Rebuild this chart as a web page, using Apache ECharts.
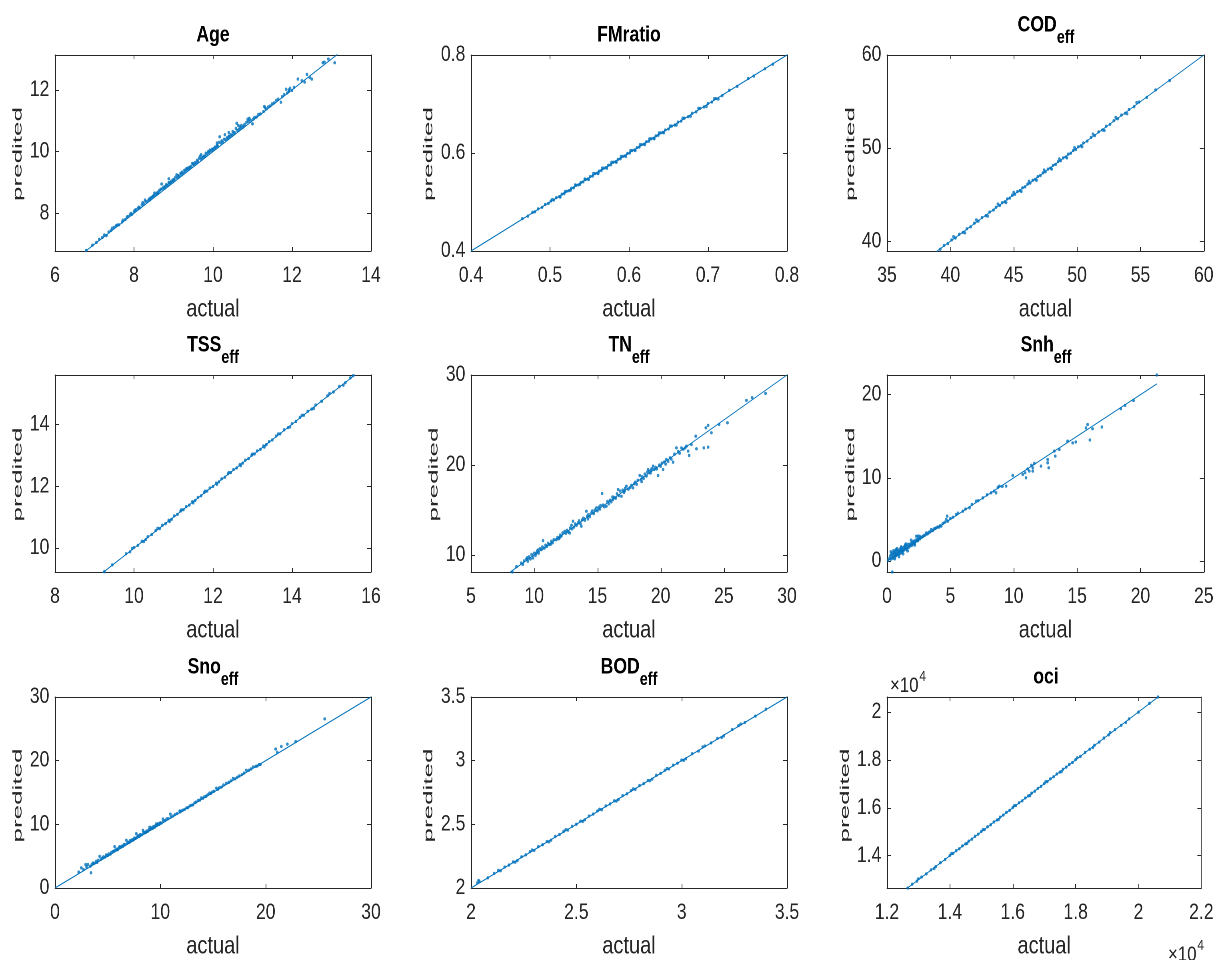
<!DOCTYPE html>
<html><head><meta charset="utf-8">
<script src="https://cdn.jsdelivr.net/npm/echarts@6/dist/echarts.min.js"></script>
<style>html,body{margin:0;padding:0;background:#fff;overflow:hidden}
#wrap{width:1216px;height:960px;overflow:hidden}
#c{width:1520px;height:960px;transform:scaleX(0.8);transform-origin:0 0}</style>
</head><body><div id="wrap"><div id="c"></div></div>
<script>
// ---------- DATA (actual, predicted) ----------
const agePoints = [[6.79,6.80],[6.95,6.97],[7.05,7.06],[7.12,7.16],[7.2,7.22],[7.25,7.3],[7.3,7.28],[7.36,7.4],[7.42,7.45],[7.45,7.52],[7.5,7.55],[7.55,7.6],[7.58,7.62],[7.62,7.63],[7.7,7.72],[7.72,7.78],[7.78,7.8],[7.82,7.88],[7.85,7.9],[7.9,7.95],[7.92,8.0],[7.95,7.97],[8.0,8.05],[8.02,8.1],[8.05,8.12],[8.1,8.16],[8.12,8.2],[8.15,8.18],[8.2,8.28],[8.22,8.35],[8.25,8.3],[8.28,8.43],[8.3,8.38],[8.35,8.4],[8.38,8.46],[8.4,8.44],[8.42,8.5],[8.45,8.52],[8.48,8.55],[8.5,8.58],[8.55,8.6],[8.58,8.66],[8.6,8.64],[8.62,8.7],[8.65,8.75],[8.68,8.78],[8.7,8.95],[8.72,8.8],[8.75,8.85],[8.78,8.82],[8.8,8.88],[8.82,8.93],[8.85,8.9],[8.88,9.12],[8.9,8.97],[8.92,9.0],[8.95,9.05],[8.98,9.02],[9.0,9.1],[9.02,9.08],[9.05,9.17],[9.08,9.25],[9.1,9.15],[9.12,9.22],[9.15,9.2],[9.18,9.3],[9.2,9.27],[9.22,9.34],[9.25,9.3],[9.28,9.4],[9.3,9.36],[9.33,9.45],[9.35,9.42],[9.38,9.48],[9.4,9.44],[9.42,9.5],[9.45,9.52],[9.5,9.6],[9.52,9.58],[9.55,9.65],[9.58,9.62],[9.6,9.72],[9.62,9.68],[9.65,9.78],[9.67,9.85],[9.7,9.75],[9.72,9.8],[9.75,9.82],[9.78,9.86],[9.8,9.85],[9.82,9.95],[9.85,9.92],[9.88,10.0],[9.9,9.97],[9.92,10.05],[9.95,10.02],[9.98,10.08],[10.0,10.05],[10.02,10.1],[10.05,10.15],[10.08,10.12],[10.1,10.2],[10.12,10.18],[10.15,10.3],[10.17,10.48],[10.2,10.28],[10.22,10.35],[10.25,10.3],[10.28,10.4],[10.3,10.55],[10.32,10.38],[10.35,10.45],[10.38,10.42],[10.4,10.5],[10.42,10.48],[10.45,10.55],[10.48,10.52],[10.5,10.65],[10.52,10.58],[10.55,10.62],[10.58,10.75],[10.6,10.92],[10.62,10.68],[10.65,10.72],[10.68,10.8],[10.7,10.75],[10.72,10.85],[10.75,10.78],[10.78,10.82],[10.8,10.88],[10.85,10.95],[10.88,11.05],[10.9,10.98],[10.95,11.02],[11.0,10.9],[11.02,11.05],[11.05,11.1],[11.1,11.12],[11.15,11.2],[11.2,11.22],[11.28,11.3],[11.32,11.42],[11.35,11.38],[11.4,11.45],[11.45,11.48],[11.5,11.55],[11.55,11.58],[11.6,11.66],[11.65,11.7],[11.72,11.6],[11.75,11.78],[11.8,11.85],[11.85,12.02],[11.88,11.9],[11.92,11.95],[11.95,12.05],[12.0,11.98],[12.05,12.08],[12.15,12.35],[12.25,12.3],[12.32,12.25],[12.38,12.5],[12.45,12.4],[12.5,12.35],[12.78,12.88],[12.82,12.9],[12.92,13.0],[13.08,12.88],[8.52,8.66],[8.88,9.0],[9.48,9.62],[9.7,9.9],[10.1,10.28],[10.4,10.62],[10.64,10.85],[10.92,11.08],[11.3,11.46],[11.92,12.0]];
const fmratioPoints = [[0.465,0.466],[0.472,0.471],[0.478,0.479],[0.481,0.480],[0.485,0.486],[0.49,0.489],[0.494,0.495],[0.498,0.497],[0.501,0.502],[0.505,0.504],[0.508,0.509],[0.512,0.511],[0.515,0.516],[0.518,0.517],[0.521,0.522],[0.524,0.523],[0.527,0.528],[0.53,0.529],[0.533,0.534],[0.536,0.535],[0.539,0.540],[0.542,0.541],[0.545,0.546],[0.548,0.547],[0.551,0.552],[0.554,0.553],[0.557,0.558],[0.56,0.559],[0.562,0.563],[0.565,0.564],[0.568,0.569],[0.571,0.570],[0.574,0.575],[0.577,0.576],[0.58,0.581],[0.583,0.582],[0.586,0.587],[0.589,0.588],[0.592,0.593],[0.595,0.594],[0.598,0.599],[0.601,0.600],[0.604,0.605],[0.607,0.606],[0.61,0.611],[0.613,0.612],[0.616,0.617],[0.619,0.618],[0.622,0.623],[0.625,0.624],[0.628,0.629],[0.631,0.630],[0.634,0.635],[0.637,0.636],[0.64,0.641],[0.643,0.642],[0.646,0.647],[0.65,0.649],[0.654,0.655],[0.658,0.657],[0.662,0.663],[0.666,0.665],[0.67,0.671],[0.675,0.674],[0.68,0.681],[0.685,0.684],[0.69,0.691],[0.695,0.694],[0.7,0.701],[0.705,0.704],[0.71,0.711],[0.718,0.717],[0.727,0.728],[0.737,0.736],[0.751,0.752],[0.758,0.757],[0.772,0.772],[0.782,0.781],[0.503,0.505],[0.513,0.51],[0.519,0.521],[0.526,0.524],[0.532,0.535],[0.538,0.536],[0.544,0.547],[0.549,0.546],[0.555,0.558],[0.561,0.558],[0.566,0.569],[0.572,0.569],[0.578,0.581],[0.584,0.581],[0.59,0.593],[0.596,0.593],[0.602,0.605],[0.608,0.605],[0.614,0.617],[0.62,0.617],[0.626,0.629],[0.632,0.629],[0.638,0.641],[0.644,0.641],[0.652,0.655],[0.66,0.657],[0.668,0.671],[0.678,0.675],[0.688,0.691],[0.698,0.695],[0.708,0.711],[0.713,0.71]];
const codPoints = [[39.2,39.15],[39.5,39.55],[39.8,39.75],[40.1,40.15],[40.4,40.35],[40.7,40.75],[41.0,40.95],[41.3,41.35],[41.6,41.55],[41.9,41.95],[42.2,42.15],[42.5,42.55],[42.8,42.75],[43.1,43.15],[43.4,43.35],[43.6,43.65],[43.9,43.85],[44.1,44.15],[44.3,44.25],[44.5,44.55],[44.7,44.65],[44.9,44.95],[45.1,45.05],[45.3,45.35],[45.5,45.45],[45.7,45.75],[45.9,45.85],[46.1,46.15],[46.3,46.25],[46.5,46.55],[46.7,46.65],[46.9,46.95],[47.1,47.05],[47.3,47.35],[47.5,47.45],[47.7,47.75],[47.9,47.85],[48.1,48.15],[48.3,48.25],[48.5,48.55],[48.7,48.65],[48.9,48.95],[49.1,49.05],[49.3,49.35],[49.5,49.45],[49.7,49.75],[49.9,49.85],[50.1,50.15],[50.3,50.25],[50.5,50.55],[50.8,50.75],[51.1,51.15],[51.4,51.35],[51.7,51.75],[52.0,51.95],[52.3,52.35],[52.6,52.55],[52.9,52.95],[53.2,53.15],[53.5,53.55],[53.8,53.75],[54.1,54.15],[54.5,54.45],[54.9,54.95],[55.5,55.45],[56.2,56.25],[57.3,57.25],[40.25,40.5],[41.15,40.9],[42.05,42.3],[42.95,42.7],[43.75,44.0],[44.4,44.15],[45.0,45.25],[45.6,45.35],[46.2,46.45],[46.8,46.55],[47.4,47.65],[48.0,47.75],[48.6,48.85],[49.2,48.95],[49.8,50.05],[50.4,50.15],[51.25,51.5],[52.15,51.9],[53.05,53.3],[53.95,53.7],[54.7,54.9]];
const tssPoints = [[9.25,9.24],[9.45,9.46],[9.8,9.82],[9.9,9.88],[10.0,10.02],[10.1,10.09],[10.2,10.22],[10.3,10.28],[10.35,10.37],[10.45,10.44],[10.55,10.57],[10.65,10.63],[10.72,10.74],[10.8,10.79],[10.88,10.9],[10.95,10.93],[11.02,11.04],[11.1,11.09],[11.18,11.2],[11.25,11.24],[11.32,11.34],[11.4,11.39],[11.48,11.5],[11.55,11.54],[11.62,11.64],[11.7,11.69],[11.78,11.8],[11.85,11.84],[11.92,11.94],[12.0,11.99],[12.08,12.1],[12.15,12.14],[12.22,12.24],[12.3,12.29],[12.38,12.4],[12.45,12.44],[12.52,12.54],[12.6,12.59],[12.68,12.7],[12.75,12.74],[12.82,12.84],[12.9,12.89],[12.98,13.0],[13.05,13.04],[13.12,13.14],[13.2,13.19],[13.28,13.3],[13.35,13.34],[13.42,13.44],[13.5,13.49],[13.6,13.62],[13.7,13.69],[13.8,13.82],[13.9,13.89],[14.0,14.02],[14.1,14.09],[14.2,14.22],[14.3,14.29],[14.4,14.42],[14.5,14.49],[14.6,14.62],[14.75,14.74],[14.9,14.92],[15.05,15.04],[15.2,15.22],[15.35,15.34],[15.48,15.5],[15.55,15.57],[9.95,9.99],[10.25,10.21],[10.6,10.64],[10.9,10.86],[11.2,11.24],[11.5,11.46],[11.8,11.84],[12.1,12.06],[12.4,12.44],[12.7,12.66],[13.0,13.04],[13.3,13.26],[13.65,13.69],[13.95,13.91],[14.25,14.29],[14.55,14.51],[14.95,14.99],[15.3,15.26]];
const tnPoints = [[8.27,8.11],[8.6,8.7],[8.98,9.11],[9.1,8.95],[9.2,9.35],[9.38,9.55],[9.5,9.3],[9.6,9.8],[9.7,9.55],[9.8,10.05],[9.91,9.67],[10.0,10.2],[10.1,9.95],[10.17,10.22],[10.25,10.45],[10.35,10.2],[10.45,10.7],[10.57,10.6],[10.65,10.9],[10.7,11.6],[10.8,10.75],[10.9,11.1],[11.0,10.95],[11.1,11.3],[11.2,11.15],[11.36,11.52],[11.45,11.35],[11.55,11.7],[11.75,11.7],[11.85,11.95],[11.95,11.8],[12.05,12.2],[12.15,12.1],[12.25,12.45],[12.41,12.63],[12.5,12.4],[12.6,12.75],[12.7,12.55],[12.8,12.45],[12.85,13.0],[12.95,13.3],[13.07,13.75],[13.15,13.1],[13.25,13.45],[13.35,13.3],[13.47,13.56],[13.55,13.8],[13.65,13.5],[13.73,13.2],[13.8,13.9],[13.9,14.1],[14.0,13.85],[14.13,14.86],[14.2,14.3],[14.3,14.5],[14.4,14.25],[14.53,14.68],[14.6,14.9],[14.7,14.6],[14.8,15.0],[14.92,15.23],[15.0,14.9],[15.1,15.3],[15.2,15.1],[15.37,16.83],[15.45,15.55],[15.55,15.35],[15.71,15.42],[15.8,15.95],[15.9,15.7],[16.0,16.1],[16.1,15.9],[16.24,16.16],[16.35,16.4],[16.45,16.3],[16.55,16.8],[16.64,17.27],[16.7,16.6],[16.8,17.1],[16.9,16.53],[17.0,17.2],[17.1,16.95],[17.2,17.4],[17.3,17.64],[17.45,17.3],[17.6,17.5],[17.7,17.75],[17.82,17.46],[17.9,17.9],[18.0,18.1],[18.1,17.85],[18.2,18.3],[18.35,18.83],[18.45,18.4],[18.55,18.7],[18.65,18.5],[18.75,19.0],[18.88,18.76],[18.95,19.2],[19.01,19.5],[19.1,19.3],[19.2,19.1],[19.3,19.6],[19.4,19.87],[19.5,19.5],[19.6,19.75],[19.7,19.55],[19.8,18.83],[19.9,20.0],[20.0,19.85],[20.1,20.2],[20.2,19.5],[20.3,20.35],[20.46,20.61],[20.6,20.4],[20.75,20.8],[20.85,20.65],[20.99,20.31],[21.1,21.2],[21.25,21.9],[21.4,21.5],[21.5,21.3],[21.65,21.9],[21.8,21.75],[21.95,21.9],[22.05,22.1],[22.18,21.54],[22.26,21.06],[22.44,22.28],[22.78,23.2],[22.84,21.8],[23.42,21.9],[23.58,24.14],[23.76,24.4],[23.76,21.98],[24.02,23.58],[24.63,24.5],[25.29,24.69],[26.79,27.18],[27.24,27.48],[28.3,27.96],[9.45,9.7],[10.3,10.55],[11.3,11.2],[12.0,11.9],[13.0,12.9],[14.25,14.0],[15.25,15.5],[16.2,16.45],[17.15,17.1],[18.5,18.15],[19.25,19.4],[20.4,20.1]];
const snhPoints = [[0.08,0.08],[0.42,-1.33],[0.2,0.3],[0.25,0.6],[0.3,0.2],[0.35,0.8],[0.4,0.5],[0.42,0.96],[0.45,0.3],[0.5,0.7],[0.55,1.0],[0.58,0.45],[0.6,0.85],[0.65,1.2],[0.68,0.6],[0.7,0.95],[0.73,1.37],[0.75,0.7],[0.8,1.1],[0.85,0.85],[0.88,1.3],[0.9,0.75],[0.95,1.05],[1.0,1.16],[1.02,1.45],[1.05,0.9],[1.1,1.25],[1.15,1.55],[1.18,1.0],[1.2,1.35],[1.25,1.2],[1.3,1.6],[1.35,1.3],[1.39,1.77],[1.42,1.45],[1.45,1.9],[1.5,1.55],[1.55,1.4],[1.6,1.75],[1.65,2.0],[1.7,1.6],[1.78,1.97],[1.82,1.8],[1.88,2.1],[1.95,1.85],[2.0,2.2],[2.05,2.37],[2.1,2.0],[2.15,2.3],[2.2,2.15],[2.25,2.5],[2.31,2.97],[2.35,2.4],[2.4,2.6],[2.45,2.45],[2.5,2.75],[2.57,2.97],[2.6,2.65],[2.7,2.85],[2.8,2.9],[2.9,3.05],[3.0,3.1],[3.1,3.37],[3.2,3.25],[3.3,3.45],[3.4,3.5],[3.49,3.78],[3.6,3.65],[3.7,3.85],[3.8,3.9],[3.88,3.98],[4.0,4.1],[4.1,4.05],[4.2,4.25],[4.28,4.18],[4.4,4.5],[4.55,4.65],[4.67,4.98],[4.75,5.38],[4.8,4.78],[5.0,5.1],[5.2,5.25],[5.46,5.58],[5.6,5.75],[5.98,5.98],[6.2,6.25],[6.51,6.39],[6.7,6.8],[7.03,7.19],[7.2,7.25],[7.56,7.59],[7.9,7.95],[8.22,8.19],[8.45,8.4],[8.61,8.19],[8.75,8.85],[8.87,9.0],[9.1,8.95],[9.4,9.0],[9.92,10.28],[10.71,10.4],[10.9,10.6],[10.97,10.0],[11.1,11.05],[11.23,10.8],[11.4,11.5],[11.5,11.2],[11.5,10.8],[11.63,11.73],[12.15,11.4],[12.68,12.2],[12.68,11.8],[12.76,11.2],[13.2,13.2],[13.28,12.6],[13.6,13.4],[14.25,14.4],[14.65,14.2],[14.9,14.3],[15.7,16.0],[15.83,16.4],[16.01,14.54],[16.22,15.9],[16.96,16.1],[18.45,18.3],[18.79,18.7],[19.45,19.3],[21.29,22.36],[0.3,1.1],[0.52,1.25],[0.62,0.25],[0.78,1.5],[0.95,0.5],[1.12,1.7],[1.28,0.85],[1.48,2.05],[1.62,1.2],[1.9,2.5],[2.2,1.9],[2.45,3.0]];
const snoPoints = [[2.25,2.5],[2.5,3.17],[2.7,2.9],[2.91,3.68],[3.0,3.3],[3.13,3.68],[3.35,3.42],[3.42,2.4],[3.5,3.7],[3.6,3.93],[3.75,3.9],[3.92,4.19],[4.0,4.0],[4.1,4.35],[4.24,4.96],[4.35,4.5],[4.5,4.7],[4.6,4.9],[4.75,4.85],[4.87,5.2],[5.0,5.1],[5.1,5.35],[5.25,5.3],[5.35,5.6],[5.5,5.72],[5.6,5.8],[5.66,6.49],[5.75,5.95],[5.85,6.1],[5.95,6.0],[6.05,6.3],[6.14,6.49],[6.25,6.4],[6.35,6.6],[6.45,6.55],[6.55,6.85],[6.65,6.8],[6.77,7.5],[6.85,7.0],[6.95,7.2],[7.05,7.15],[7.15,7.45],[7.25,7.4],[7.35,7.6],[7.45,7.55],[7.55,7.85],[7.65,7.8],[7.72,8.53],[7.8,8.0],[7.9,8.2],[8.0,8.1],[8.1,8.4],[8.2,8.35],[8.35,9.04],[8.4,8.6],[8.5,8.75],[8.6,8.7],[8.7,8.95],[8.8,8.9],[8.9,9.15],[8.99,9.55],[9.05,9.2],[9.15,9.45],[9.25,9.35],[9.35,9.65],[9.45,9.55],[9.55,9.8],[9.62,10.07],[9.7,9.85],[9.8,10.1],[9.9,10.0],[10.0,10.25],[10.1,10.2],[10.25,10.83],[10.3,10.5],[10.45,10.6],[10.6,10.85],[10.75,10.9],[10.95,11.6],[11.0,11.15],[11.2,11.3],[11.4,11.55],[11.6,11.7],[11.84,12.11],[11.9,11.95],[12.1,12.2],[12.3,12.35],[12.5,12.6],[12.63,12.62],[12.8,12.9],[12.95,13.0],[13.1,13.05],[13.26,13.39],[13.4,13.5],[13.6,13.75],[13.75,13.8],[13.89,14.15],[14.05,14.1],[14.2,14.35],[14.35,14.4],[14.5,14.65],[14.68,14.92],[14.8,14.85],[14.95,15.1],[15.1,15.2],[15.32,15.69],[15.45,15.5],[15.6,15.75],[15.8,15.85],[16.0,16.2],[16.27,16.45],[16.5,16.6],[16.7,16.85],[16.9,17.22],[17.1,17.15],[17.3,17.4],[17.5,17.6],[17.75,17.8],[17.95,18.05],[18.16,18.5],[18.4,18.5],[18.6,18.7],[18.8,19.0],[19.05,19.1],[19.2,19.15],[19.37,19.37],[19.5,19.4],[20.95,21.82],[21.1,21.3],[21.49,22.23],[22.06,22.59],[22.85,23.0],[25.6,26.57]];
const bodPoints = [[2.03,2.04],[2.036,2.06],[2.04,2.05],[2.08,2.08],[2.11,2.115],[2.14,2.135],[2.16,2.165],[2.18,2.18],[2.2,2.205],[2.22,2.215],[2.24,2.245],[2.26,2.26],[2.28,2.285],[2.3,2.295],[2.32,2.325],[2.34,2.34],[2.36,2.365],[2.38,2.375],[2.4,2.405],[2.42,2.42],[2.44,2.445],[2.46,2.455],[2.48,2.485],[2.5,2.5],[2.52,2.525],[2.54,2.535],[2.56,2.565],[2.58,2.58],[2.6,2.605],[2.62,2.615],[2.64,2.645],[2.66,2.66],[2.68,2.685],[2.7,2.695],[2.72,2.725],[2.74,2.74],[2.76,2.765],[2.78,2.775],[2.8,2.805],[2.82,2.82],[2.84,2.845],[2.86,2.855],[2.88,2.885],[2.9,2.9],[2.92,2.925],[2.94,2.935],[2.96,2.965],[2.98,2.98],[3.0,3.005],[3.02,3.015],[3.05,3.055],[3.08,3.075],[3.11,3.115],[3.14,3.14],[3.17,3.175],[3.2,3.195],[3.24,3.245],[3.27,3.275],[3.3,3.3],[3.35,3.35],[3.4,3.405],[2.13,2.138],[2.21,2.202],[2.29,2.298],[2.37,2.362],[2.45,2.458],[2.53,2.522],[2.61,2.618],[2.69,2.682],[2.77,2.778],[2.85,2.842],[2.93,2.938],[3.01,3.002],[3.1,3.108],[3.19,3.182],[3.28,3.288]];
const ociPoints = [[12660,12653],[12800,12810],[12950,12940],[13100,13110],[13250,13240],[13400,13410],[13550,13545],[13700,13710],[13850,13840],[14000,14010],[14100,14095],[14200,14210],[14300,14290],[14400,14410],[14500,14495],[14600,14610],[14700,14690],[14800,14810],[14900,14895],[15000,15010],[15100,15090],[15200,15210],[15300,15295],[15400,15410],[15500,15490],[15600,15610],[15700,15695],[15800,15810],[15900,15890],[16000,16010],[16100,16095],[16200,16210],[16300,16290],[16400,16410],[16500,16495],[16600,16610],[16700,16690],[16800,16810],[16900,16895],[17000,17010],[17100,17090],[17200,17210],[17300,17295],[17400,17410],[17500,17490],[17600,17610],[17700,17695],[17800,17810],[17900,17890],[18000,18010],[18150,18140],[18300,18310],[18450,18445],[18600,18610],[18750,18740],[18900,18910],[19050,19045],[19250,19260],[19450,19440],[19700,19710],[20000,19990],[20350,20360],[20620,20624],[13000,13040],[13500,13460],[14050,14090],[14550,14510],[15050,15090],[15550,15510],[16050,16090],[16550,16510],[17050,17090],[17550,17510],[18050,18090],[18550,18510],[19100,19140],[19600,19560]];

// reference (y = x) line end points
const refLines = [[6.7,13.2],[0.4,0.8],[38.9,60],[9.2,15.6],[8.1,30],[0.05,21.29],[0,30],[2,3.5],[12600,20700]];

const titleMain = ['Age','FMratio','COD','TSS','TN','Snh','Sno','BOD','oci'];
const titleSub  = ['','','eff','eff','eff','eff','eff','eff',''];
const xRanges = [[6,14],[0.4,0.8],[35,60],[8,16],[5,30],[0,25],[0,30],[2,3.5],[12000,22000]];
const yRanges = [[6.78,13.13],[0.4,0.8],[38.96,60],[9.23,15.59],[8.11,30],[-1.33,22.36],[0,30],[2,3.5],[12653,20624]];
const xTicks = [[6,8,10,12,14],[0.4,0.5,0.6,0.7,0.8],[35,40,45,50,55,60],[8,10,12,14,16],[5,10,15,20,25,30],[0,5,10,15,20,25],[0,10,20,30],[2,2.5,3,3.5],[12000,14000,16000,18000,20000,22000]];
const yTicks = [[8,10,12],[0.4,0.6,0.8],[40,50,60],[10,12,14],[10,20,30],[0,10,20],[0,10,20,30],[2,2.5,3,3.5],[14000,16000,18000,20000]];
const xLabel = 'actual';
const yLabel = 'predited';
const expLabel = ['×10','4'];

const allPoints = [agePoints,fmratioPoints,codPoints,tssPoints,tnPoints,snhPoints,snoPoints,bodPoints,ociPoints];

// ---------- LAYOUT (screen px; whole figure is drawn wide then squeezed by S) ----------
const S = 0.8;
const X = v => v / S;
const colLeft = [55,471,887], colWidth = [316,316,318];
const rowTop = [55,375,697], rowHeight = [196,197,195];
const ylabOffset = [-37,-42,-36,-37,-37,-36,-37,-42,-41.5];
const BLUE = '#0072BD', AX = '#262626';
const FONT = "'Liberation Sans',Arial,sans-serif";

const chart = echarts.init(document.getElementById('c'), null, {renderer:'canvas', devicePixelRatio:2});
const mctx = document.createElement('canvas').getContext('2d');
function tw(font, s){ mctx.font = font; return mctx.measureText(s).width; }

const grids=[], xAxes=[], yAxes=[], series=[], graphics=[];
function fmt(i){ return i===8 ? (v)=>String(Math.round(v/1000)/10) : (v)=>String(Math.round(v*1000)/1000); }

for (let i=0;i<9;i++){
  const r = Math.floor(i/3), c = i%3;
  const L = colLeft[c], T = rowTop[r], W = colWidth[c], H = rowHeight[r];
  grids.push({left:X(L), top:T, width:X(W), height:H, containLabel:false});
  const base = (dimRange, ticks, pos, showLabel, isX) => ({
    type:'value', gridIndex:i, position:pos, min:dimRange[0], max:dimRange[1],
    axisLine:{show:true, onZero:false, lineStyle:{color:AX, width:1}},
    axisTick:{show:true, inside:true, length: isX?4:5, customValues:ticks, lineStyle:{color:AX, width:1}},
    axisLabel:{show:showLabel, customValues:ticks, formatter:fmt(i), color:AX,
      fontFamily:FONT, fontSize:22, margin: isX?14:7, hideOverlap:false},
    splitLine:{show:false}
  });
  const xb = base(xRanges[i], xTicks[i], 'bottom', true, true);
  xb.name = xLabel; xb.nameLocation='middle'; xb.nameGap=46;
  xb.nameTextStyle = {fontFamily:FONT, fontSize:25, color:AX};
  xAxes.push(xb);
  xAxes.push(base(xRanges[i], xTicks[i], 'top', false, true));
  yAxes.push(base(yRanges[i], yTicks[i], 'left', true, false));
  yAxes.push(base(yRanges[i], yTicks[i], 'right', false, false));
  series.push({type:'scatter', xAxisIndex:2*i, yAxisIndex:2*i, data:allPoints[i],
    symbol:'circle', symbolSize:3.3, itemStyle:{color:BLUE}, silent:true});
  const lr = refLines[i];
  series.push({type:'line', xAxisIndex:2*i, yAxisIndex:2*i, data:[[lr[0],lr[0]],[lr[1],lr[1]]],
    showSymbol:false, symbol:'none', clip:true, lineStyle:{color:BLUE, width:1}, silent:true});

  // title
  const cx = X(L + W/2);
  const mainFont = "bold 22px " + FONT, subFont = "bold 18px " + FONT;
  if (!titleSub[i]) {
    graphics.push({type:'text', x:cx, y:T-12-0.35*22, silent:true,
      style:{text:titleMain[i], font:mainFont, fill:'#000', align:'center', verticalAlign:'middle'}});
  } else {
    const w1 = tw(mainFont, titleMain[i]), w2 = tw(subFont, titleSub[i]);
    const x0 = cx - (w1+w2)/2;
    graphics.push({type:'text', x:x0, y:T-22-0.35*22, silent:true,
      style:{text:titleMain[i], font:mainFont, fill:'#000', align:'left', verticalAlign:'middle'}});
    graphics.push({type:'text', x:x0+w1, y:T-10.5-0.35*18, silent:true,
      style:{text:titleSub[i], font:subFont, fill:'#000', align:'left', verticalAlign:'middle'}});
  }
  // y label (tall and thin like the reference)
  graphics.push({type:'text', x:X(L+ylabOffset[i]), y:T+H/2+1, rotation:Math.PI/2, scaleY:0.6, silent:true,
    style:{text:yLabel, font:"26px "+FONT, fill:AX, align:'center', verticalAlign:'middle'}});
}
// x10^4 exponent labels for oci
const expFont = "21px " + FONT, supFont = "15px " + FONT;
const wx = tw(expFont, expLabel[0]);
graphics.push({type:'text', x:X(890), y:686, silent:true, style:{text:expLabel[0], font:expFont, fill:AX, align:'left', verticalAlign:'middle'}});
graphics.push({type:'text', x:X(890)+wx+1, y:677, silent:true, style:{text:expLabel[1], font:supFont, fill:AX, align:'left', verticalAlign:'middle'}});
graphics.push({type:'text', x:X(1168), y:955, silent:true, style:{text:expLabel[0], font:expFont, fill:AX, align:'left', verticalAlign:'middle'}});
graphics.push({type:'text', x:X(1168)+wx+1, y:946, silent:true, style:{text:expLabel[1], font:supFont, fill:AX, align:'left', verticalAlign:'middle'}});

chart.setOption({animation:false, backgroundColor:'#fff', grid:grids, xAxis:xAxes, yAxis:yAxes, series:series, graphic:graphics});
</script></body></html>
